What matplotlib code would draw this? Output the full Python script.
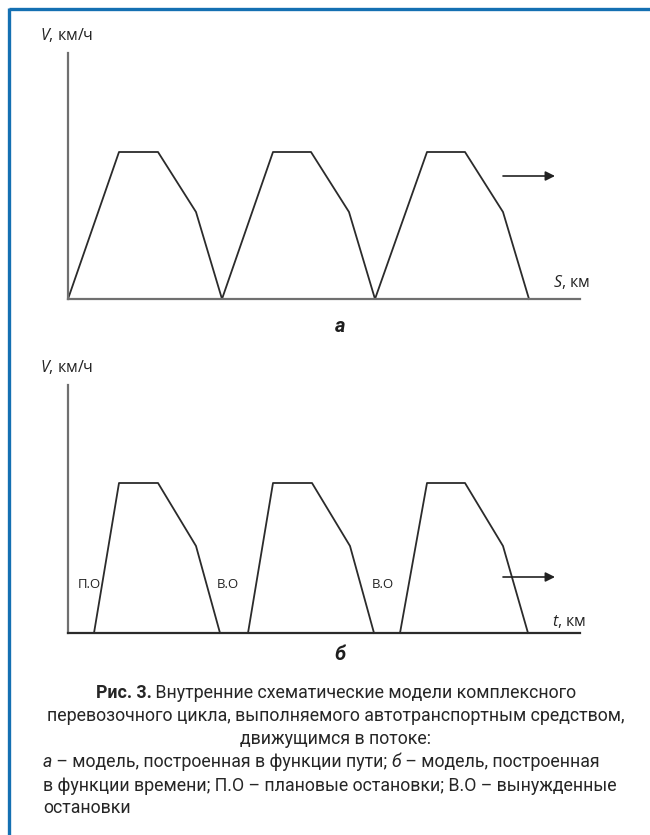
import matplotlib
matplotlib.use("Agg")
import matplotlib.pyplot as plt

plt.rcParams['font.family'] = ['Open Sans', 'DejaVu Sans']
plt.rcParams['mathtext.fontset'] = 'custom'
plt.rcParams['mathtext.it'] = 'Open Sans:italic'
plt.rcParams['mathtext.rm'] = 'Open Sans'

# ---- data (arbitrary units, one unit per screen pixel of the axis) ----
# model a: speed vs distance, three cycles
s_a = [0, 51, 90, 128, 154, 205, 243, 281, 307, 359, 397, 435, 461]
v_a = [0, 147, 147, 87, 0, 147, 147, 87, 0, 147, 147, 87, 0]

# model b: speed vs time, three cycles separated by stops
t_b = [[26, 51, 90, 128, 152],
       [180, 205, 244, 282, 306],
       [332, 359, 397, 435, 460]]
v_b = [[0, 150, 150, 87, 0],
       [0, 150, 150, 87, 0],
       [0, 150, 150, 87, 0]]

stop_labels = ["П.О", "В.О", "В.О"]
stop_x = [21, 160, 315]
stop_y = 48

W, H = 650, 835
fig = plt.figure(figsize=(W / 100, H / 100), dpi=100)

def px_axes(x0, y_bottom, w, h):
    return fig.add_axes([x0 / W, (H - y_bottom) / H, w / W, h / H])

LINE = '#2b2b2b'
AXIS = '#707070'

def setup(ax, w, h, bottom_color):
    ax.set_xlim(0, w)
    ax.set_ylim(0, h)
    ax.set_xticks([])
    ax.set_yticks([])
    ax.patch.set_alpha(0)
    for k in ('top', 'right'):
        ax.spines[k].set_visible(False)
    ax.spines['left'].set_color(AXIS)
    ax.spines['left'].set_linewidth(1.6)
    ax.spines['bottom'].set_color(bottom_color)
    ax.spines['bottom'].set_linewidth(1.6)

# panel a
ax_a = px_axes(68, 299, 512, 246)
setup(ax_a, 512, 246, AXIS)
ax_a.plot(s_a, v_a, color=LINE, lw=1.3, clip_on=False)
ax_a.annotate('', xy=(487, 123), xytext=(435, 123),
              arrowprops=dict(arrowstyle='-|>', color='#222222', lw=1.2,
                              mutation_scale=14, shrinkA=0, shrinkB=0))

# panel b
ax_b = px_axes(68, 633, 512, 248)
setup(ax_b, 512, 248, '#2b2b2b')
for t, v in zip(t_b, v_b):
    ax_b.plot(t, v, color=LINE, lw=1.3, clip_on=False)
for lab, x in zip(stop_labels, stop_x):
    ax_b.text(x, stop_y, lab, ha='center', va='center', fontsize=9.5, color='#222222')
ax_b.annotate('', xy=(487, 56), xytext=(435, 56),
              arrowprops=dict(arrowstyle='-|>', color='#222222', lw=1.2,
                              mutation_scale=14, shrinkA=0, shrinkB=0))

# overlay in pixel coordinates for frame, axis titles and caption
ov = fig.add_axes([0, 0, 1, 1])
ov.set_xlim(0, W)
ov.set_ylim(H, 0)
ov.axis('off')
ov.patch.set_alpha(0)

BLUE = '#1470b2'
ov.plot([9, W], [8.5, 8.5], color=BLUE, lw=2.4, solid_capstyle='butt')
ov.plot([9, 9], [7.5, H], color=BLUE, lw=2.4, solid_capstyle='butt')

AX_FS = 11.5
ov.text(40, 35, r'$\mathit{V}$, км/ч', fontsize=AX_FS, va='center', color='#222222')
ov.text(40, 367, r'$\mathit{V}$, км/ч', fontsize=AX_FS, va='center', color='#222222')
ov.text(553, 282, r'$\mathit{S}$, км', fontsize=AX_FS, va='center', color='#222222')
ov.text(552, 622, r'$\mathit{t}$, км', fontsize=AX_FS, va='center', color='#222222')

CAPFONT = ['Roboto', 'DejaVu Sans']
ov.text(340, 326, 'а', family=CAPFONT, fontsize=14.5, weight='bold', style='italic',
        ha='center', va='center', color='#1e1e1e')
ov.text(340, 655, 'б', family=CAPFONT, fontsize=14.5, weight='bold', style='italic',
        ha='center', va='center', color='#1e1e1e')

fig.canvas.draw()
renderer = fig.canvas.get_renderer()
CAPCOL = '#262626'

def seg_width(txt, size, **kw):
    t = ov.text(0, 0, txt, family=CAPFONT, fontsize=size, **kw)
    w = t.get_window_extent(renderer).width
    t.remove()
    return w

# caption size chosen so the widest line spans the text block
LINE2 = 'перевозочного цикла, выполняемого автотранспортным средством,'
CAP = 13 * 576 / seg_width(LINE2, 13)

def draw_line(segs, y, x=None, center=None):
    widths = [seg_width(s, CAP, **kw) for s, kw in segs]
    if center is not None:
        x = center - sum(widths) / 2
    for (s, kw), w in zip(segs, widths):
        ov.text(x, y, s, family=CAPFONT, fontsize=CAP, va='center', color=CAPCOL, **kw)
        x += w

CX = 336
LX = 43
draw_line([('Рис. 3.', dict(weight='bold')),
           (' Внутренние схематические модели комплексного', {})], 693, center=CX)
draw_line([(LINE2, {})], 716, center=CX)
draw_line([('движущимся в потоке:', {})], 739, center=CX)
draw_line([('а', dict(style='italic')),
           (' – модель, построенная в функции пути; ', {}),
           ('б', dict(style='italic')),
           (' – модель, построенная', {})], 762, x=LX)
draw_line([('в функции времени; П.О – плановые остановки; В.О – вынужденные', {})], 786, x=LX)
draw_line([('остановки', {})], 808, x=LX)

fig.savefig('out.png', dpi=100)
